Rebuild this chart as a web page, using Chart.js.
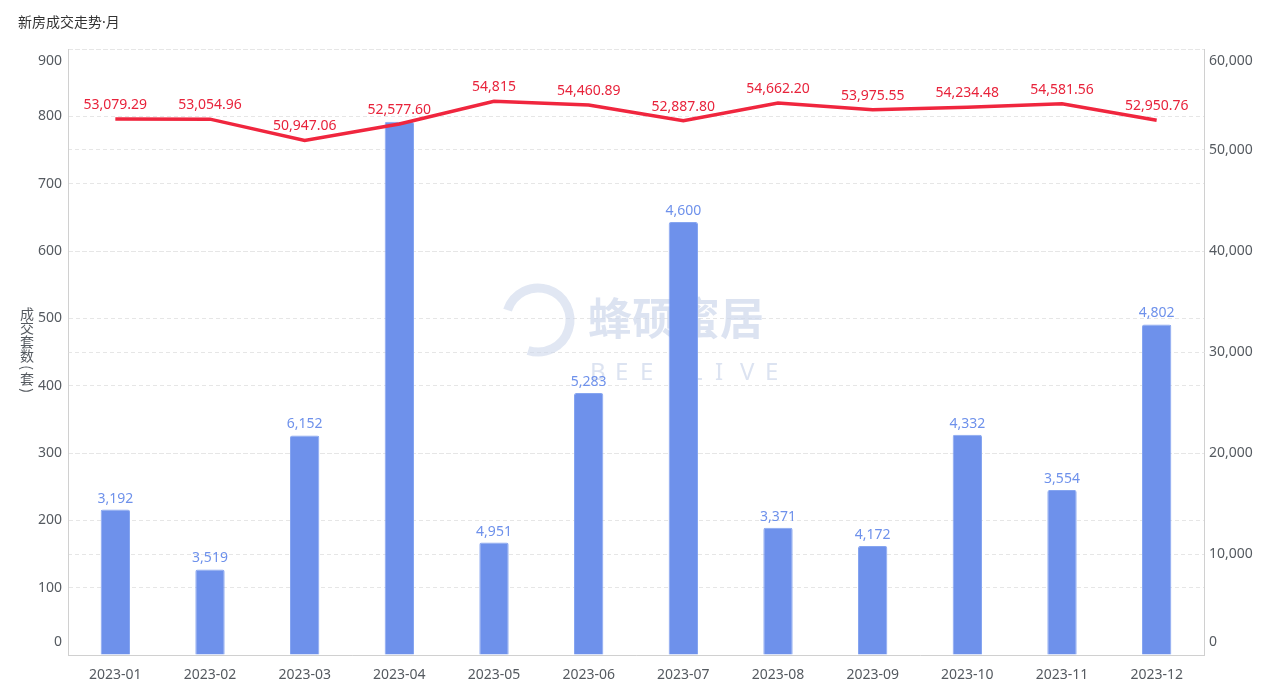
<!DOCTYPE html>
<html>
<head>
<meta charset="utf-8">
<script src="https://cdn.jsdelivr.net/npm/chart.js@4.4.1/dist/chart.umd.min.js"></script>
<style>
	html, body { margin: 0; padding: 0; background: #fff; }
	#wrap { width: 1268px; height: 693px; position: relative; }
</style>
</head>
<body>
<div id="wrap"><canvas id="myChart" width="1268" height="693"></canvas></div>
<script>
const months = ['2023-01', '2023-02', '2023-03', '2023-04', '2023-05', '2023-06',
	'2023-07', '2023-08', '2023-09', '2023-10', '2023-11', '2023-12'];
// bar heights (left axis, 套)
const dealCount = [216, 127, 326, 792, 167, 389, 643, 189, 162, 327, 245, 491];
// numbers printed above the bars
const barLabels = [3192, 3519, 6152, null, 4951, 5283, 4600, 3371, 4172, 4332, 3554, 4802];
// red line (right axis)
const avgPrice = [53079.29, 53054.96, 50947.06, 52577.60, 54815, 54460.89,
	52887.80, 54662.20, 53975.55, 54234.48, 54581.56, 52950.76];
const leftMax = 900, leftStep = 100;
const rightMax = 60000, rightStep = 10000;

const FONT = "'Noto Sans', 'Noto Sans CJK SC', sans-serif";
const tickColor = '#555a60';
const barColor = '#6e91eb';
const lineColor = '#f0263e';

function fmtPrice(v) {
	if (Number.isInteger(v)) return v.toLocaleString('en-US');
	return v.toLocaleString('en-US', { minimumFractionDigits: 2, maximumFractionDigits: 2 });
}

// edge tick labels sit inside the axis range, like the original
function edgeColor(last) {
	return function (c) {
		return (c.index === 0 || c.index === last) ? 'transparent' : tickColor;
	};
}

const extras = {
	id: 'extras',
	beforeDatasetsDraw(chart) {
		const ctx = chart.ctx;
		ctx.save();
		// watermark
		ctx.strokeStyle = 'rgba(205,215,235,0.6)';
		ctx.lineWidth = 9;
		ctx.beginPath();
		ctx.arc(538, 320, 32, Math.PI * 1.1, Math.PI * 2.6);
		ctx.stroke();
		ctx.fillStyle = 'rgba(205,215,235,0.7)';
		ctx.font = "bold 44px 'Noto Sans CJK SC'";
		ctx.textAlign = 'left';
		ctx.textBaseline = 'middle';
		ctx.fillText('蜂硕蜜居', 588, 318);
		ctx.font = "24px 'Noto Sans'";
		const letters = 'BEE LIVE';
		for (let i = 0; i < letters.length; i++) {
			ctx.fillText(letters[i], 590 + i * 25, 373);
		}
		ctx.restore();
	},
	afterDatasetsDraw(chart) {
		const ctx = chart.ctx;
		ctx.save();
		ctx.textAlign = 'center';
		ctx.textBaseline = 'middle';
		ctx.font = '14px ' + FONT;

		let barMeta = chart.getDatasetMeta(0);
		ctx.fillStyle = barColor;
		barMeta.data.forEach((el, i) => {
			if (barLabels[i] == null) return;
			ctx.fillText(barLabels[i].toLocaleString('en-US'), el.x, el.y - 11);
		});

		let lineMeta = chart.getDatasetMeta(1);
		ctx.fillStyle = '#e8233b';
		lineMeta.data.forEach((el, i) => {
			ctx.fillText(fmtPrice(avgPrice[i]), el.x, el.y - 14);
		});

		// edge ticks
		ctx.fillStyle = tickColor;
		let yl = chart.scales.y, yr = chart.scales.y1;
		ctx.textAlign = 'right';
		ctx.fillText('0', yl.right - 6, yl.getPixelForValue(0) - 13);
		ctx.fillText(String(leftMax), yl.right - 6, yl.getPixelForValue(leftMax) + 12);
		ctx.textAlign = 'left';
		ctx.fillText('0', yr.left + 5, yr.getPixelForValue(0) - 13);
		ctx.fillText(rightMax.toLocaleString('en-US'), yr.left + 5, yr.getPixelForValue(rightMax) + 12);

		// title
		ctx.fillStyle = '#333';
		ctx.font = "14px 'Noto Sans', 'Noto Sans CJK SC'";
		ctx.fillText('新房成交走势·月', 18, 23);

		// vertical axis title, stacked characters, brackets turned
		ctx.fillStyle = tickColor;
		ctx.font = "14px 'Noto Sans CJK SC'";
		ctx.textAlign = 'center';
		let chars = ['成', '交', '套', '数', '(', '套', ')'];
		let yy = 307;
		chars.forEach((ch) => {
			let isBr = (ch === '(' || ch === ')');
			let adv = isBr ? 9 : 14;
			let cy = yy + adv / 2;
			if (isBr) {
				ctx.save();
				ctx.translate(27, cy);
				ctx.rotate(Math.PI / 2);
				ctx.fillText(ch, 0, 0);
				ctx.restore();
			} else {
				ctx.fillText(ch, 27, cy);
			}
			yy += adv;
		});
		ctx.restore();
	}
};

var ctx = document.getElementById('myChart').getContext('2d');
var chartM = new Chart(ctx, {
	data: {
		labels: months,
		datasets: [{
			type: 'bar',
			label: '成交套数',
			data: dealCount,
			backgroundColor: barColor,
			borderColor: '#86a5f0',
			borderWidth: { top: 1, left: 1, right: 1, bottom: 0 },
			borderRadius: { topLeft: 2, topRight: 2 },
			barPercentage: 0.31,
			categoryPercentage: 1,
			yAxisID: 'y',
			order: 2
		}, {
			type: 'line',
			label: '成交均价',
			data: avgPrice,
			borderColor: lineColor,
			borderWidth: 3.5,
			pointRadius: 0,
			tension: 0,
			fill: false,
			yAxisID: 'y1',
			order: 1
		}]
	},
	options: {
		responsive: false,
		animation: false,
		layout: { padding: { top: 49, left: 0, right: 0, bottom: 0 } },
		plugins: {
			legend: { display: false },
			tooltip: { enabled: false }
		},
		scales: {
			x: {
				grid: { display: false },
				border: { display: true, color: '#d0d0d0', width: 1 },
				ticks: { color: tickColor, font: { size: 14, family: FONT }, padding: 4, maxRotation: 0 },
				afterFit: (s) => { s.height = 38; }
			},
			y: {
				position: 'left',
				min: 0,
				max: leftMax,
				ticks: { stepSize: leftStep, color: edgeColor(leftMax / leftStep), font: { size: 14, family: FONT }, padding: 6 },
				grid: { color: '#e6e6e6', lineWidth: 1, drawTicks: false },
				border: { display: true, color: '#d0d0d0', dash: [4, 3] },
				afterFit: (s) => { s.width = 68; }
			},
			y1: {
				position: 'right',
				min: 0,
				max: rightMax,
				ticks: {
					stepSize: rightStep,
					color: edgeColor(rightMax / rightStep),
					font: { size: 14, family: FONT },
					padding: 5,
					callback: (v) => v.toLocaleString('en-US')
				},
				grid: { color: '#e6e6e6', lineWidth: 1, drawTicks: false },
				border: { display: true, color: '#d0d0d0', dash: [4, 3] },
				afterFit: (s) => { s.width = 64; }
			}
		}
	},
	plugins: [extras]
});
</script>
</body>
</html>
